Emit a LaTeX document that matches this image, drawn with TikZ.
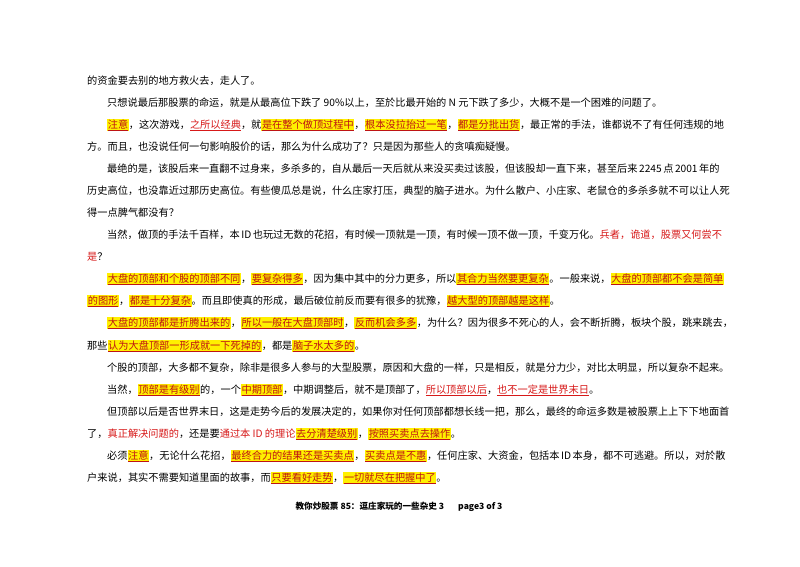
\documentclass[tikz,border=0pt]{standalone}
\usepackage{fontspec}
\setmainfont{Noto Sans CJK SC}
\XeTeXlinebreaklocale "zh"
\XeTeXlinebreakskip=0pt plus 3pt
\definecolor{hlred}{RGB}{190,20,20}
\definecolor{rd}{RGB}{215,25,25}
\definecolor{hly}{RGB}{255,240,0}
\newcommand{\hlx}[1]{{\setlength\fboxsep{0.6pt}\colorbox{hly}{\textcolor{hlred}{\underline{#1}}}}}
\newcommand{\rdx}[1]{\textcolor{rd}{#1}}
\newcommand{\rux}[1]{\textcolor{rd}{\underline{#1}}}
\tikzset{ln/.style={anchor=base west,inner sep=0pt,font=\fontsize{10.2pt}{12pt}\selectfont}}
\newcommand{\full}[1]{\hbox to 625pt{#1}}
\newcommand{\fulli}[1]{\hbox to 605pt{#1}}
\begin{document}
\begin{tikzpicture}[x=1pt,y=-1pt]
\useasboundingbox (0,0) rectangle (800,566);
\fill[white] (0,0) rectangle (800,566);
\def\L{87}\def\I{107}
\node[ln] (l1) at (\L,84) {的资金要去别的地方救火去，走人了。};
\node[ln] (l2) at (\I,106) {只想说最后那股票的命运，就是从最高位下跌了 90\%以上，至於比最开始的 N 元下跌了多少，大概不是一个困难的问题了。};
\node[ln] (l3) at (\I,128) {\fulli{\hlx{注意}，这次游戏，\rux{之所以经典}，就\hlx{是在整个做顶过程中}，\hlx{根本没拉抬过一笔}，\hlx{都是分批出货}，最正常的手法，谁都说不了有任何违规的地}};
\node[ln] (l4) at (\L,150) {方。而且，也没说任何一句影响股价的话，那么为什么成功了？只是因为那些人的贪嗔痴疑慢。};
\node[ln] (l5) at (\I,172) {\fulli{最绝的是，该股后来一直翻不过身来，多杀多的，自从最后一天后就从来没买卖过该股，但该股却一直下来，甚至后来 2245 点 2001 年的}};
\node[ln] (l6) at (\L,194) {\full{历史高位，也没靠近过那历史高位。有些傻瓜总是说，什么庄家打压，典型的脑子进水。为什么散户、小庄家、老鼠仓的多杀多就不可以让人死}};
\node[ln] (l7) at (\L,216) {得一点脾气都没有？};
\node[ln] (l8) at (\I,238) {\fulli{当然，做顶的手法千百样，本 ID 也玩过无数的花招，有时候一顶就是一顶，有时候一顶不做一顶，千变万化。\rdx{兵者，诡道，股票又何尝不}}};
\node[ln] (l9) at (\L,260) {\rdx{是}？};
\node[ln] (l10) at (\I,282) {\fulli{\hlx{大盘的顶部和个股的顶部不同}，\hlx{要复杂得多}，因为集中其中的分力更多，所以\hlx{其合力当然要更复杂}。一般来说，\hlx{大盘的顶部都不会是简单}}};
\node[ln] (l11) at (\L,304) {\hlx{的图形}，\hlx{都是十分复杂}。而且即使真的形成，最后破位前反而要有很多的犹豫，\hlx{越大型的顶部越是这样}。};
\node[ln] (l12) at (\I,326) {\fulli{\hlx{大盘的顶部都是折腾出来的}，\hlx{所以一般在大盘顶部时}，\hlx{反而机会多多}，为什么？因为很多不死心的人，会不断折腾，板块个股，跳来跳去，}};
\node[ln] (l13) at (\L,349) {那些\hlx{认为大盘顶部一形成就一下死掉的}，都是\hlx{脑子水太多的}。};
\node[ln] (l14) at (\I,371) {\fulli{个股的顶部，大多都不复杂，除非是很多人参与的大型股票，原因和大盘的一样，只是相反，就是分力少，对比太明显，所以复杂不起来。}};
\node[ln] (l15) at (\I,393) {当然，\hlx{顶部是有级别}的，一个\hlx{中期顶部}，中期调整后，就不是顶部了，\rux{所以顶部以后}，\rux{也不一定是世界末日}。};
\node[ln] (l16) at (\I,415) {\fulli{但顶部以后是否世界末日，这是走势今后的发展决定的，如果你对任何顶部都想长线一把，那么，最终的命运多数是被股票上上下下地面首}};
\node[ln] (l17) at (\L,437) {了，\rdx{真正解决问题的}，还是要\rdx{通过本 ID 的理论}\hlx{去分清楚级别}，\hlx{按照买卖点去操作}。};
\node[ln] (l18) at (\I,459) {\fulli{必须\hlx{注意}，无论什么花招，\hlx{最终合力的结果还是买卖点}，\hlx{买卖点是不惠}，任何庄家、大资金，包括本 ID 本身，都不可逃避。所以，对於散}};
\node[ln] (l19) at (\L,481) {户来说，其实不需要知道里面的故事，而\hlx{只要看好走势}，\hlx{一切就尽在把握中了}。};
\node[anchor=base,inner sep=0pt,font=\bfseries\fontsize{8.6pt}{10pt}\selectfont] (ft) at (399,509) {教你炒股票 85：逗庄家玩的一些杂史 3\hspace{14pt}page3 of 3};
\end{tikzpicture}
\end{document}
